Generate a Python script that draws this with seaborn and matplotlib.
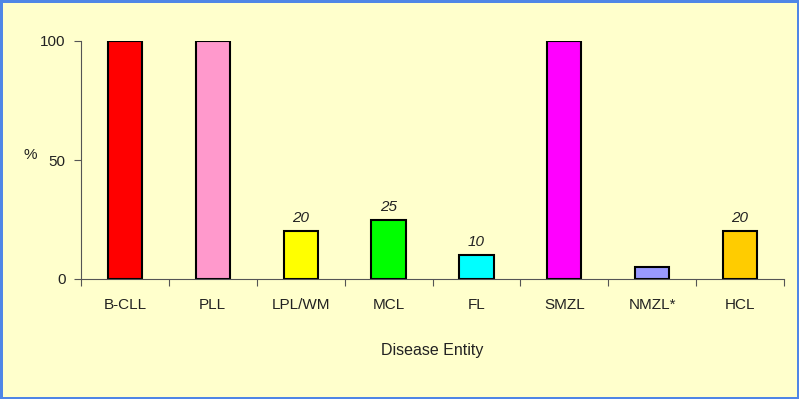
import numpy as np
import pandas as pd
import matplotlib
matplotlib.use("Agg")
import matplotlib.pyplot as plt
import seaborn as sns

sns.set_theme(style="white")
plt.rcParams['font.family'] = ['Liberation Sans', 'DejaVu Sans']

# data
entities = ["B-CLL", "PLL", "LPL/WM", "MCL", "FL", "SMZL", "NMZL*", "HCL"]
percent = [100, 100, 20, 25, 10, 100, 5, 20]
bar_colors = ["#FF0000", "#FF99CC", "#FFFF00", "#00FF00", "#00FFFF", "#FF00FF", "#9999FF", "#FFCC00"]
shown_labels = ["", "", "20", "25", "10", "", "", "20"]

df = pd.DataFrame({"entity": entities, "pct": percent})

bg = "#FFFFCC"
fig = plt.figure(figsize=(7.99, 3.99), dpi=100, facecolor=bg)
fig.patch.set_edgecolor("#4F86E6")
fig.patch.set_linewidth(2.5)
ax = fig.add_axes([81/799, 1 - 279/399, 703/799, 238/399])
ax.set_facecolor(bg)

sns.barplot(data=df, x="entity", y="pct", hue="entity", palette=bar_colors,
            saturation=1, width=0.39, edgecolor="black", linewidth=1.5,
            legend=False, ax=ax)

for i, lab in enumerate(shown_labels):
    if lab:
        ax.text(i, percent[i] + 2.5, lab, ha="center", va="bottom",
                fontsize=11, style="italic", color="#222222")

ax.set_xlim(-0.5, len(entities) - 0.5)
ax.set_ylim(0, 100)
ax.set_yticks([0, 50, 100])
ax.set_xticks(np.arange(-0.5, len(entities)), minor=True)
ax.tick_params(axis="x", which="major", bottom=True, length=0, pad=14,
               labelsize=11, colors="#222222")
ax.tick_params(axis="x", which="minor", bottom=True, length=5, width=0.8,
               color="#555555", direction="out")
ax.tick_params(axis="y", length=5, width=0.8, color="#555555", direction="out",
               pad=6, labelsize=11, labelcolor="#222222", left=True)

for s in ["top", "right"]:
    ax.spines[s].set_visible(False)
for s in ["left", "bottom"]:
    ax.spines[s].set_color("#555555")
    ax.spines[s].set_linewidth(0.8)

ax.set_xlabel("Disease Entity", fontsize=11.5, color="#222222", labelpad=22)
ax.set_ylabel("")
fig.text(30/799, 1 - 155/399, "%", fontsize=11, color="#222222", ha="center", va="center")

fig.savefig("out.png", dpi=100, facecolor=bg, edgecolor=fig.patch.get_edgecolor())
